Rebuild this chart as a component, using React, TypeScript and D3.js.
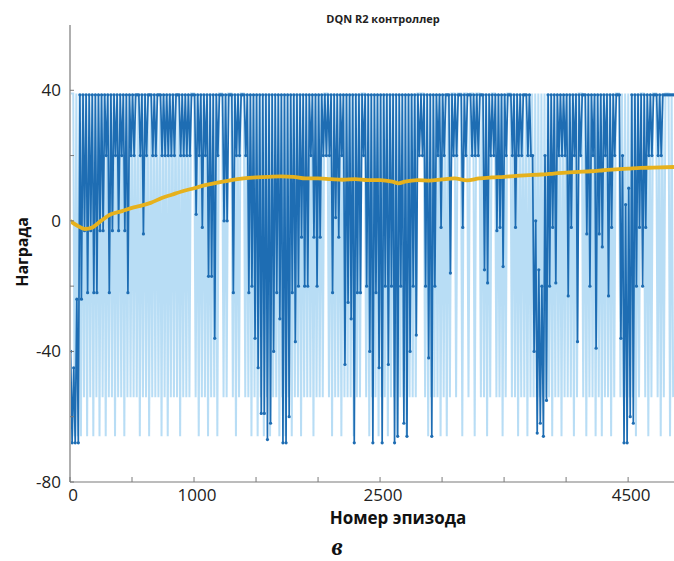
import React from 'react';
import * as d3 from 'd3';

const W = 674;
const H = 561;

// Episode rewards, summarised per bin of 25 episodes (bin i = episodes i*25 .. i*25+24)
const binWidth = 25;
const episodeMax = 4870;
const darkTop = 38.6;
const lightTop = 39;

// lowest episode reward (dark series) in each bin
const darkMin: number[] = [
  -68, -68, -68, -24, -3, -22, -3, -22, -22, -3,
  -3, 20, -22, -3, 20, -3, 20, -3, -22, 20,
  20, 39, 20, -4, 20, 39, 20, 20, 39, 20,
  20, 20, 20, 20, 39, 20, 20, 20, 20, 39,
  2, 20, -2, 20, -17, -17, -36, 20, 39, 0,
  0, 39, -22, 20, 20, 39, 20, -22, -20, -36,
  -45, -59, -59, -67, -62, -40, -22, -30, -68, -68,
  -60, -22, -37, -20, -5, -20, -20, 20, -5, -20,
  -5, 20, 20, 20, -22, 1, -5, 20, -44, -25,
  -30, -68, -22, -22, 20, -20, -40, -68, -22, -45,
  -68, -20, -44, -20, -68, -66, -20, -62, -66, -40,
  -20, -35, 20, 20, -20, -42, -66, -20, 20, -2,
  20, 39, -16, 20, 20, 39, -2, 20, 39, 20,
  20, 20, 39, -15, -19, 20, 20, -3, -2, -14,
  20, 39, 20, -2, 20, 20, 39, 20, 20, -40,
  -65, -62, -66, -55, -20, -2, -19, 20, 20, 20,
  -23, -2, 20, -37, 20, 39, -4, -20, 20, -39,
  -4, -8, 20, -23, -2, 20, 39, -36, -68, -68,
  -60, -62, -20, -2, -20, -2, 20, 20, 39, 20,
  20, 39, 39, 39, 39,
];

// bins where the highest dark reward is below the usual top value
const darkMaxBins: number[] = [0, 1, 2, 149, 150, 151, 152, 153, 178, 179, 180];
const darkMaxValues: number[] = [-40, -45, -24, 20, 0, -15, -20, 20, 20, 5, 10];

// lowest value of the light series in each bin (null = no drop)
const lightMin: (number | null)[] = [
  null, -66, -66, -66, -54, -66, -54, -66, -54, -66,
  -54, -66, -54, -54, -66, -54, -54, -66, -54, -54,
  -54, -54, -66, -54, -54, -66, -54, -54, -54, -66,
  -54, -66, -54, -54, -54, -66, -54, -54, -54, null,
  -54, -66, -54, -54, -66, -54, -54, -66, null, -54,
  -54, null, -54, -66, -54, null, -54, -54, -66, -54,
  -66, -54, -66, -54, -66, -54, -54, -66, -54, -66,
  -54, -66, -54, -54, -66, -54, -54, -54, -66, -54,
  -54, -54, null, -54, -66, -54, -54, -66, -54, -54,
  -54, -66, -54, -54, null, -54, -66, -54, -54, -66,
  -54, -54, -66, -54, -54, -66, -54, -54, -66, -54,
  -54, -54, null, null, -54, -66, -54, -54, -54, -66,
  -54, -66, -54, null, -54, null, -66, null, -54, null,
  -66, null, -54, -54, -66, -54, null, -54, -54, -66,
  -54, null, -54, -54, -66, -54, -54, -66, -54, -54,
  -54, -54, -54, -54, -54, -66, -54, -54, -66, -54,
  -54, -54, -66, -54, null, -54, -66, -54, -54, -66,
  -54, -66, -54, -54, -66, -54, null, -54, -54, -54,
  -54, -54, -66, -54, null, -54, -66, -54, null, -54,
  -66, -54, null, -66, -54,
];

// average reward (yellow)
const avgEpisodes: number[] = [
  0, 60, 120, 180, 250, 330, 420, 500, 560, 650, 740, 820, 900, 1000, 1100, 1200,
  1300, 1400, 1500, 1600, 1700, 1800, 1900, 2000, 2100, 2200, 2300, 2400, 2500,
  2600, 2650, 2700, 2800, 2900, 3000, 3100, 3200, 3300, 3400, 3500, 3600, 3700,
  3800, 3900, 4000, 4100, 4200, 4300, 4400, 4500, 4600, 4700, 4870,
];
const avgReward: number[] = [
  0, -1.5, -2.5, -2, 0, 2, 3, 4, 4.5, 5.5, 7, 8, 9, 10, 11, 11.8,
  12.5, 13, 13.3, 13.5, 13.6, 13.5, 13, 13, 12.8, 12.6, 12.8, 12.5, 12.5,
  12, 11.5, 12, 12.5, 12.3, 12.7, 13, 12.4, 13, 13.3, 13.5, 13.8, 14,
  14.2, 14.5, 14.8, 15, 15.2, 15.5, 15.8, 16, 16.2, 16.3, 16.5,
];

const yTicks: number[] = [-80, -60, -40, -20, 0, 20, 40];
const yTickLabels: string[] = ['-80', '', '-40', '', '0', '', '40'];
const xTicks: number[] = [0, 500, 1000, 1500, 2000, 2500, 3000, 3500, 4000, 4500];
const xLabelTicks: number[] = [0, 1000, 2500, 4500];

const title = 'DQN R2 контроллер';
const xTitle = 'Номер эпизода';
const yTitle = 'Награда';
const caption = 'в';

const DARK = '#1e6db3';
const LIGHT = '#a6d5f2';
const YELLOW = '#e6b11d';
const AXIS = '#7a7a7a';
const FONT = '"Open Sans", "Noto Sans", sans-serif';

export default function App() {
  const x = d3.scaleLinear().domain([0, episodeMax]).range([70, 674]);
  const y = d3.scaleLinear().domain([-80, 60]).range([482, 25]);

  const maxMap = new Map<number, number>();
  darkMaxBins.forEach((b, i) => maxMap.set(b, darkMaxValues[i]));

  const darkPts: [number, number][] = [];
  darkMin.forEach((v, i) => {
    const hi = maxMap.has(i) ? (maxMap.get(i) as number) : darkTop;
    darkPts.push([i * binWidth + 5, hi]);
    darkPts.push([i * binWidth + 17, Math.min(v, hi)]);
  });

  const lightPts: [number, number][] = [];
  lightMin.forEach((v, i) => {
    lightPts.push([i * binWidth + 1, lightTop]);
    lightPts.push([i * binWidth + 13, v === null ? lightTop : v]);
  });

  const line = d3
    .line<[number, number]>()
    .x((d) => x(d[0]))
    .y((d) => y(d[1]));

  const avgLine = d3
    .line<number>()
    .x((_, i) => x(avgEpisodes[i]))
    .y((d) => y(d))
    .curve(d3.curveMonotoneX);

  return (
    <svg
      width={W}
      height={H}
      style={{ position: 'absolute', left: 0, top: 0, display: 'block', background: '#fff' }}
    >
      <defs>
        <clipPath id="plot">
          <rect x={71} y={20} width={603} height={461} />
        </clipPath>
      </defs>
      <g clipPath="url(#plot)">
        <path d={line(lightPts) || ''} fill="none" stroke={LIGHT} strokeWidth={2} strokeOpacity={0.8} />
        <path d={line(darkPts) || ''} fill="none" stroke={DARK} strokeWidth={1.7} />
        {darkPts.map((d, i) => (
          <circle key={i} cx={x(d[0])} cy={y(d[1])} r={1.6} fill={DARK} />
        ))}
        <path d={avgLine(avgReward) || ''} fill="none" stroke={YELLOW} strokeWidth={3.8} strokeLinejoin="round" />
      </g>

      {/* axes */}
      <line x1={70} x2={70} y1={y(60)} y2={y(-80)} stroke={AXIS} strokeWidth={1.2} />
      <line x1={70} x2={674} y1={y(-80)} y2={y(-80)} stroke={AXIS} strokeWidth={1.2} />
      {yTicks.map((t) => (
        <line key={'yt' + t} x1={70} x2={74} y1={y(t)} y2={y(t)} stroke={AXIS} strokeWidth={1} />
      ))}
      {xTicks.map((t) => (
        <line key={'xt' + t} x1={x(t)} x2={x(t)} y1={y(-80)} y2={y(-80) - 5} stroke={AXIS} strokeWidth={1} />
      ))}
      {yTicks.map((t, i) =>
        yTickLabels[i] ? (
          <text key={'yl' + t} x={61} y={y(t) + 6} textAnchor="end" fontFamily={FONT} fontSize={17} fill="#222">
            {yTickLabels[i]}
          </text>
        ) : null
      )}
      {xLabelTicks.map((t) => (
        <text key={'xl' + t} x={x(t) + 3} y={501} textAnchor="middle" fontFamily={FONT} fontSize={17} fill="#222">
          {t}
        </text>
      ))}
      <text x={383} y={23} textAnchor="middle" fontFamily={FONT} fontSize={11} fontWeight="bold" fill="#222">
        {title}
      </text>
      <text x={398} y={524} textAnchor="middle" fontFamily={FONT} fontSize={17} fontWeight="bold" fill="#111">
        {xTitle}
      </text>
      <text
        transform="translate(28,252) rotate(-90)"
        textAnchor="middle"
        fontFamily={FONT}
        fontSize={16}
        fontWeight="bold"
        fill="#111"
      >
        {yTitle}
      </text>
      <text x={337} y={555} textAnchor="middle" fontFamily='"Liberation Serif", serif' fontSize={25} fontStyle="italic" fontWeight="bold" fill="#111">
        {caption}
      </text>
    </svg>
  );
}
